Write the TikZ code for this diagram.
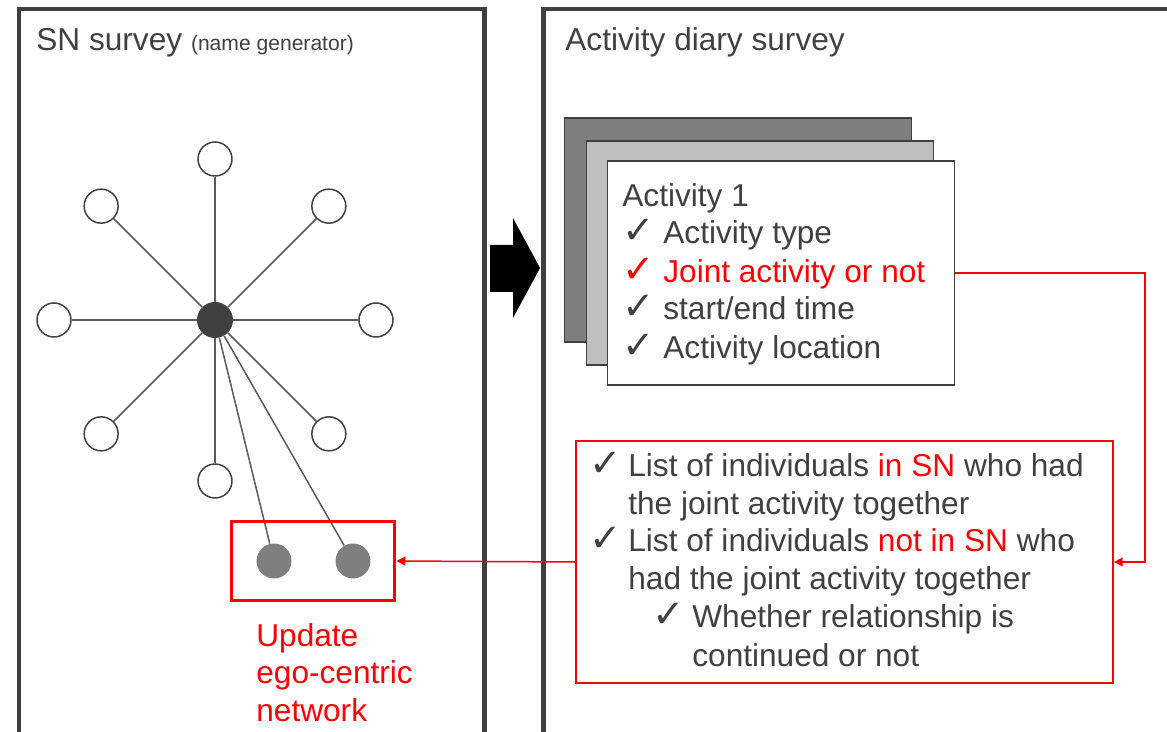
\documentclass[tikz,border=0pt]{standalone}
\usepackage{fontspec}
\setmainfont{Liberation Sans}
\newfontfamily\tickfont{DejaVu Sans}
\usetikzlibrary{arrows.meta}
\definecolor{ink}{HTML}{404040}
\definecolor{spoke}{HTML}{595959}
\definecolor{hot}{HTML}{FF0000}
\definecolor{cardA}{HTML}{7F7F7F}
\definecolor{cardB}{HTML}{BFBFBF}
\newcommand{\tick}{{\tickfont\fontsize{22}{22}\selectfont ✓}}

\begin{document}
\begin{tikzpicture}[x=0.02cm,y=-0.02cm,font=\fontsize{18}{21.6}\selectfont,text=ink]
    \tikzstyle{panel}=[draw=ink,line width=2.3pt]
    \tikzstyle{alter}=[circle,draw=ink,fill=white,line width=0.85pt,minimum size=0.68cm,inner sep=0pt]
    \tikzstyle{newalter}=[circle,fill=cardA,minimum size=0.7cm,inner sep=0pt]
    \tikzstyle{card}=[draw=ink,line width=0.85pt,minimum width=6.94cm,minimum height=4.48cm,inner sep=0pt]
    \tikzstyle{txt}=[anchor=base west,inner sep=0pt]
    \tikzstyle{tie}=[draw=spoke,line width=0.85pt]
    \tikzstyle{link}=[draw=hot,line width=0.85pt,-{Triangle[length=5pt,width=5pt]}]

    \useasboundingbox (0,0) rectangle (1167,732);
    \clip (0,0) rectangle (1167,732);

    % the two survey panels
    \draw[panel] (19,740) -- (19,9) -- (484.5,9) -- (484.5,740);
    \draw[panel] (543.5,740) -- (543.5,9) -- (1180,9);
    \node[txt] (sn-title) at (36,51) {SN survey {\fontsize{12}{14}\selectfont (name generator)}};
    \node[txt] (diary-title) at (565,51) {Activity diary survey};

    % ego-centric network
    \node[circle,fill=ink,minimum size=0.72cm,inner sep=0pt] (ego) at (215,320) {};
    \foreach \a in {0,45,...,315}
    \node[alter] (A-\a) at ({215+161*cos(\a)},{320+161*sin(\a)}) {};
    \node[newalter] (N-1) at (274,561) {};
    \node[newalter] (N-2) at (353,561) {};

    \foreach \a in {0,45,...,315}
    \draw[tie] (ego) -- (A-\a);
    \foreach \n in {1,2}
    \draw[tie] (ego) -- (N-\n);

    \node[draw=hot,line width=1.7pt,minimum width=3.28cm,minimum height=1.58cm,inner sep=0pt] (newbox) at (313,561) {};
    \node[txt,text=hot] (upd-1) at (256,647) {Update};
    \node[txt,text=hot] (upd-2) at (256,684) {ego-centric};
    \node[txt,text=hot] (upd-3) at (256,722) {network};

    % big arrow between the panels
    \fill[black] (490,245) -- (513,245) -- (513,218) -- (540,268) -- (513,318) -- (513,292) -- (490,292) -- cycle;

    % activity cards
    \node[card,fill=cardA] (card-1) at (738,230) {};
    \node[card,fill=cardB] (card-2) at (760,253) {};
    \node[card,fill=white] (card-3) at (781,273) {};
    \node[txt] (act-0) at (622,207) {Activity 1};
    \node[txt] (tk-1) at (622,244) {\tick};
    \node[txt] (act-1) at (663,244) {Activity type};
    \node[txt,text=hot] (tk-2) at (622,283) {\tick};
    \node[txt,text=hot] (act-2) at (663,283) {Joint activity or not};
    \node[txt] (tk-3) at (622,320) {\tick};
    \node[txt] (act-3) at (663,320) {start/end time};
    \node[txt] (tk-4) at (622,359) {\tick};
    \node[txt] (act-4) at (663,359) {Activity location};

    % joint activity list
    \node[draw=hot,line width=1.1pt,minimum width=10.74cm,minimum height=4.84cm,inner sep=0pt] (list) at (844.5,562) {};
    \node[txt] (tk-5) at (589,477) {\tick};
    \node[txt] (li-1) at (628,477) {List of individuals \textcolor{hot}{in SN} who had};
    \node[txt] (li-2) at (628,515) {the joint activity together};
    \node[txt] (tk-6) at (589,552) {\tick};
    \node[txt] (li-3) at (628,552) {List of individuals \textcolor{hot}{not in SN} who};
    \node[txt] (li-4) at (628,590) {had the joint activity together};
    \node[txt] (tk-7) at (652,628) {\tick};
    \node[txt] (li-5) at (692,628) {Whether relationship is};
    \node[txt] (li-6) at (692,667) {continued or not};

    \coordinate (turn) at (1145,273);
    \draw[link] (card-3.east) -- (turn) |- (list.east);
    \draw[link] (list.west) -- (newbox.east);
\end{tikzpicture}
\end{document}
